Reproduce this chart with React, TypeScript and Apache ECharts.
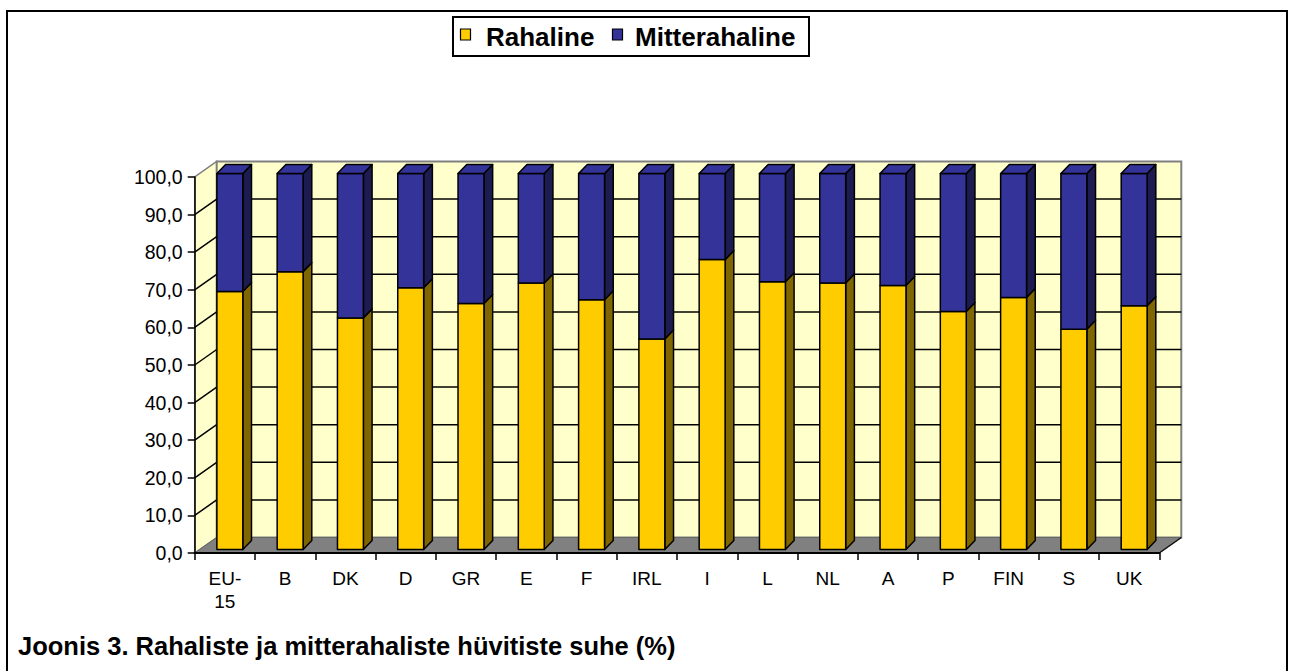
import React, { useEffect, useRef } from 'react';
import * as echarts from 'echarts';

const categories = ['EU-15', 'B', 'DK', 'D', 'GR', 'E', 'F', 'IRL', 'I', 'L', 'NL', 'A', 'P', 'FIN', 'S', 'UK'];
const rahaline = [68.6, 73.9, 61.6, 69.6, 65.4, 70.9, 66.4, 56.0, 77.1, 71.2, 70.9, 70.2, 63.3, 67.0, 58.6, 64.8];
const mitterahaline = [31.4, 26.1, 38.4, 30.4, 34.6, 29.1, 33.6, 44.0, 22.9, 28.8, 29.1, 29.8, 36.7, 33.0, 41.4, 35.2];
const seriesNames = ['Rahaline', 'Mitterahaline'];
const yMin = 0;
const yMax = 100;
const yStep = 10;
const captionText = 'Joonis 3. Rahaliste ja mitterahaliste hüvitiste suhe (%)';

const COLORS = {
  yellow: '#FFCC00',
  yellowSide: '#806600',
  blue: '#333399',
  blueSide: '#1C1C50',
  wall: '#FFFFCC',
  floor: '#808080',
};
const FONT = "'Liberation Sans', Arial, sans-serif";

const App: React.FC = () => {
  const ref = useRef<HTMLDivElement>(null);

  useEffect(() => {
    document.body.style.margin = '0';
    if (!ref.current) return;
    const chart = echarts.init(ref.current, null, { renderer: 'svg' });

    const WD = { dx: 22, dy: -15.5 }; // wall depth
    const BO = { dx: 5, dy: -3.5 }; // bar front offset
    const BD = { dx: 8.7, dy: -9 }; // bar depth

    const wallRender = (params: any, api: any) => {
      const cs = params.coordSys;
      const x0 = cs.x;
      const x1 = cs.x + cs.width;
      const yv = (v: number) => api.coord([0, v])[1];
      const y0 = yv(yMin);
      const yT = yv(yMax);
      const children: any[] = [];
      children.push({
        type: 'polygon',
        shape: { points: [[x0, y0], [x0, yT], [x0 + WD.dx, yT + WD.dy], [x0 + WD.dx, y0 + WD.dy]] },
        style: { fill: COLORS.wall, stroke: '#808080', lineWidth: 1.5 },
      });
      children.push({
        type: 'rect',
        shape: { x: x0 + WD.dx, y: yT + WD.dy, width: x1 - x0, height: y0 - yT },
        style: { fill: COLORS.wall, stroke: '#808080', lineWidth: 2 },
      });
      children.push({
        type: 'polygon',
        shape: { points: [[x0, y0], [x0 + WD.dx, y0 + WD.dy], [x1 + WD.dx, y0 + WD.dy], [x1, y0]] },
        style: { fill: COLORS.floor, stroke: '#666', lineWidth: 1 },
      });
      children.push({
        type: 'line',
        shape: { x1: x1, y1: y0, x2: x1 + WD.dx, y2: y0 + WD.dy },
        style: { stroke: '#111', lineWidth: 1.5 },
      });
      for (let v = yMin + yStep; v < yMax; v += yStep) {
        const y = yv(v);
        children.push({
          type: 'line',
          shape: { x1: x0, y1: y, x2: x0 + WD.dx, y2: y + WD.dy },
          style: { stroke: '#000', lineWidth: 1.5 },
        });
        children.push({
          type: 'line',
          shape: { x1: x0 + WD.dx, y1: y + WD.dy, x2: x1 + WD.dx, y2: y + WD.dy },
          style: { stroke: '#000', lineWidth: 1.5 },
        });
      }
      return { type: 'group', children };
    };

    const makeBarRender = (front: string, side: string, isTop: boolean) => (params: any, api: any) => {
      const i = api.value(0);
      const b = api.value(1);
      const t = api.value(2);
      const cb = api.coord([i, b]);
      const ct = api.coord([i, t]);
      const band = api.size([1, 0])[0];
      const w = band * 0.43;
      const xl = cb[0] - w / 2 + BO.dx;
      const xr = xl + w;
      const yb = cb[1] + BO.dy;
      const yt = ct[1] + BO.dy;
      const stroke = { stroke: '#000', lineWidth: 1.5, lineJoin: 'round' };
      const children: any[] = [
        {
          type: 'polygon',
          shape: { points: [[xr, yt], [xr + BD.dx, yt + BD.dy], [xr + BD.dx, yb + BD.dy], [xr, yb]] },
          style: { fill: side, ...stroke },
        },
        {
          type: 'rect',
          shape: { x: xl, y: yt, width: w, height: yb - yt },
          style: { fill: front, ...stroke },
        },
      ];
      if (isTop) {
        children.push({
          type: 'polygon',
          shape: { points: [[xl, yt], [xl + BD.dx, yt + BD.dy], [xr + BD.dx, yt + BD.dy], [xr, yt]] },
          style: { fill: front, ...stroke },
        });
      }
      return { type: 'group', children };
    };

    const rahData = rahaline.map((v, i) => [i, 0, v]);
    const mitData = mitterahaline.map((v, i) => [i, rahaline[i], rahaline[i] + v]);

    const legendX = 453;
    const legendY = 17;

    chart.setOption({
      animation: false,
      grid: { left: 194.7, right: 135.7, top: 177, bottom: 118 },
      xAxis: {
        type: 'category',
        data: categories,
        boundaryGap: true,
        axisLine: { show: true, lineStyle: { color: '#000', width: 2 } },
        axisTick: { show: true, length: 7, lineStyle: { color: '#000', width: 1.5 } },
        axisLabel: {
          color: '#000',
          fontSize: 19,
          fontFamily: FONT,
          margin: 14,
          lineHeight: 23,
          interval: 0,
          formatter: (v: string) => (v === 'EU-15' ? 'EU-\n15' : v),
        },
        splitLine: { show: false },
        z: 5,
      },
      yAxis: {
        type: 'value',
        min: yMin,
        max: yMax,
        interval: yStep,
        axisLine: { show: true, lineStyle: { color: '#000', width: 1.5 } },
        axisTick: { show: true, length: 7, lineStyle: { color: '#000', width: 1.5 } },
        axisLabel: {
          color: '#000',
          fontSize: 19.5,
          fontFamily: FONT,
          margin: 12,
          formatter: (v: number) => v.toFixed(1).replace('.', ','),
        },
        splitLine: { show: false },
        z: 5,
      },
      series: [
        {
          type: 'custom',
          name: 'walls',
          renderItem: wallRender,
          data: [[0, 0]],
          encode: { x: 0, y: 1 },
          silent: true,
          clip: false,
          z: 1,
        },
        {
          type: 'custom',
          name: seriesNames[0],
          renderItem: makeBarRender(COLORS.yellow, COLORS.yellowSide, false),
          data: rahData,
          encode: { x: 0, y: [1, 2] },
          itemStyle: { color: COLORS.yellow },
          silent: true,
          clip: false,
          z: 3,
        },
        {
          type: 'custom',
          name: seriesNames[1],
          renderItem: makeBarRender(COLORS.blue, COLORS.blueSide, true),
          data: mitData,
          encode: { x: 0, y: [1, 2] },
          itemStyle: { color: COLORS.blue },
          silent: true,
          clip: false,
          z: 4,
        },
      ],
      graphic: [
        {
          type: 'rect',
          shape: { x: 7, y: 11, width: 1280, height: 700 },
          style: { fill: 'none', stroke: '#000', lineWidth: 2 },
          silent: true,
          z: 0,
        },
        {
          type: 'rect',
          shape: { x: legendX, y: legendY, width: 356, height: 39 },
          style: { fill: '#fff', stroke: '#000', lineWidth: 2 },
          silent: true,
        },
        {
          type: 'rect',
          shape: { x: 460.5, y: 29, width: 10, height: 11 },
          style: { fill: COLORS.yellow, stroke: '#000', lineWidth: 1.2 },
          silent: true,
        },
        {
          type: 'text',
          x: 486,
          y: 37,
          style: {
            text: seriesNames[0],
            fill: '#000',
            font: `bold 26px ${FONT}`,
            verticalAlign: 'middle',
            align: 'left',
          },
          silent: true,
        },
        {
          type: 'rect',
          shape: { x: 612.5, y: 29, width: 10, height: 11 },
          style: { fill: COLORS.blue, stroke: '#000', lineWidth: 1.2 },
          silent: true,
        },
        {
          type: 'text',
          x: 635,
          y: 37,
          style: {
            text: seriesNames[1],
            fill: '#000',
            font: `bold 26px ${FONT}`,
            verticalAlign: 'middle',
            align: 'left',
          },
          silent: true,
        },
        {
          type: 'text',
          x: 18,
          y: 646,
          style: {
            text: captionText,
            fill: '#000',
            font: `bold 25.5px ${FONT}`,
            verticalAlign: 'middle',
            align: 'left',
          },
          silent: true,
        },
      ],
    });

    return () => {
      chart.dispose();
    };
  }, []);

  return <div ref={ref} style={{ width: 1295, height: 671 }} />;
};

export default App;
